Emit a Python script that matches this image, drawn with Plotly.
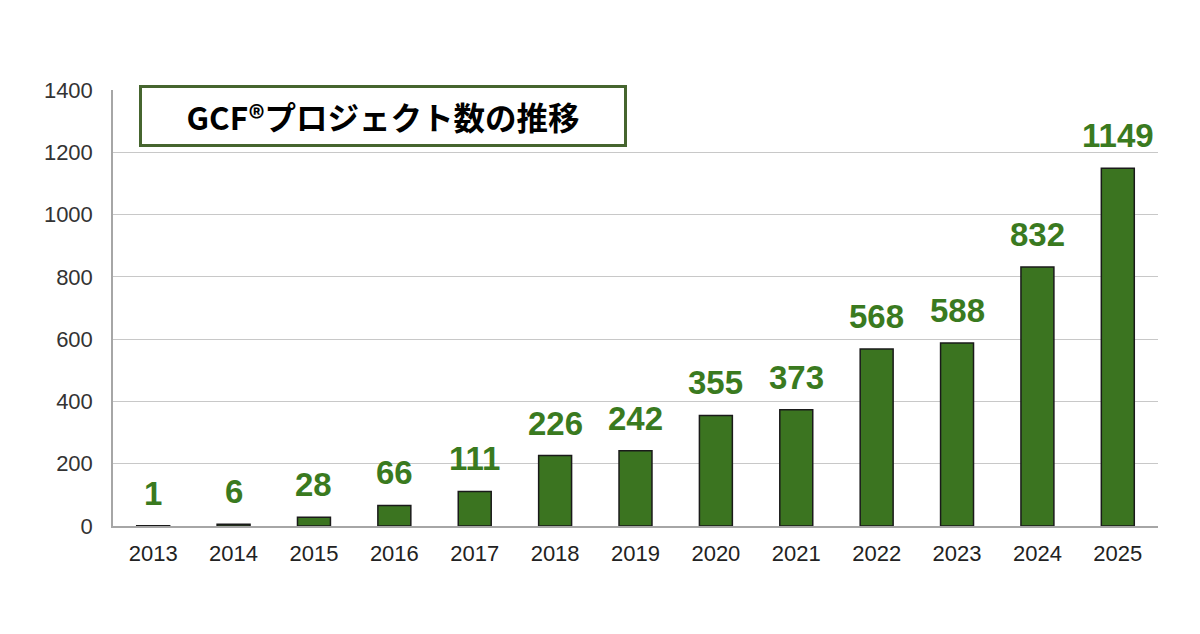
import plotly.graph_objects as go

# data
years = ["2013", "2014", "2015", "2016", "2017", "2018", "2019",
         "2020", "2021", "2022", "2023", "2024", "2025"]
projects = [1, 6, 28, 66, 111, 226, 242, 355, 373, 568, 588, 832, 1149]
y_ticks = [0, 200, 400, 600, 800, 1000, 1200, 1400]

bar_green = "#3b7420"
label_green = "#3a7a1f"

fig = go.Figure()

fig.add_trace(go.Bar(
    x=years,
    y=projects,
    marker=dict(color=bar_green, line=dict(color="#1a1a1a", width=1.5)),
    hoverinfo="x+y",
))

# value labels above the bars (category index, so they don't stretch the axis)
for i, v in enumerate(projects):
    fig.add_annotation(
        x=i, y=v,
        text=str(v),
        showarrow=False,
        yanchor="bottom",
        yshift=12,
        font=dict(family="Liberation Sans, Arial", size=33, color=label_green, weight="bold"),
    )

# title box
fig.add_annotation(
    xref="paper", yref="paper",
    x=26 / 1045, y=1.0 + 5 / 436,
    xanchor="left", yanchor="top",
    text="GCF®プロジェクト数の推移",
    showarrow=False,
    width=480,
    height=54,
    align="center",
    bgcolor="white",
    bordercolor="#46652f",
    borderwidth=3,
    font=dict(family="Noto Sans CJK JP, Liberation Sans", size=31.5, color="black", weight="bold"),
)

# page body has an 8px margin, so the figure is 8px smaller than the window
fig.update_layout(
    width=1192,
    height=626,
    margin=dict(l=105, r=42, t=82, b=108),
    plot_bgcolor="white",
    paper_bgcolor="white",
    bargap=0.59,
    showlegend=False,
    font=dict(family="Liberation Sans, Arial", size=22, color="#333333"),
    xaxis=dict(
        type="category",
        range=[-0.5, len(years) - 0.5],
        automargin=False,
        showgrid=False,
        showline=True,
        linecolor="#a6a6a6",
        linewidth=1.5,
        ticks="",
        ticklabelstandoff=7,
        tickfont=dict(size=22, color="#222222"),
    ),
    yaxis=dict(
        range=[0, 1400],
        tickvals=y_ticks,
        automargin=False,
        showgrid=True,
        gridcolor="#c8c8c8",
        gridwidth=1.2,
        showline=True,
        linecolor="#a6a6a6",
        linewidth=1.5,
        zeroline=False,
        ticks="",
        ticklabelstandoff=14,
        tickfont=dict(size=22, color="#333333"),
    ),
)

fig.write_html("out.html")
